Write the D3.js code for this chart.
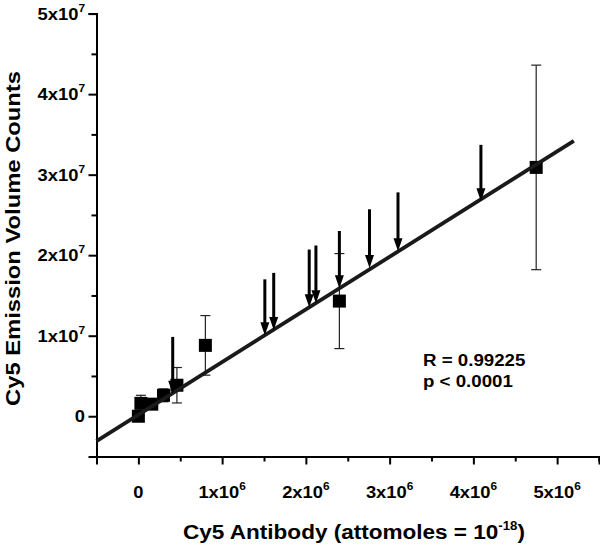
<!DOCTYPE html>
<html>
<head>
<meta charset="utf-8">
<script src="https://cdn.jsdelivr.net/npm/d3@7"></script>
<style>
  html, body { margin: 0; padding: 0; background: #fff; }
  svg { display: block; font-family: "Liberation Sans", Arial, sans-serif; }
</style>
</head>
<body>
<svg id="chart" width="600" height="545"></svg>
<script>
// ---- Data ----
const pointX   = [0, 0.03e6, 0.16e6, 0.30e6, 0.46e6, 0.80e6, 2.40e6, 4.75e6];
const pointY   = [0, 0.16e7, 0.15e7, 0.26e7, 0.385e7, 0.88e7, 1.43e7, 3.09e7];
const pointErr = [0, 0.10e7, 0, 0.08e7, 0.22e7, 0.37e7, 0.59e7, 1.27e7];

const arrowX   = [0.41e6, 1.51e6, 1.616e6, 2.04e6, 2.12e6, 2.40e6, 2.76e6, 3.10e6, 4.09e6];
const arrowTop = [0.985e7, 1.70e7, 1.78e7, 2.07e7, 2.12e7, 2.30e7, 2.57e7, 2.78e7, 3.37e7];
const arrowTip = [0.28e7, 1.006e7, 1.07e7, 1.354e7, 1.404e7, 1.59e7, 1.84e7, 2.05e7, 2.67e7];

const fitX = [-0.5e6, 5.2e6];
const fitY = [-0.31e7, 3.42e7];

const xMajor = [0, 1e6, 2e6, 3e6, 4e6, 5e6];
const xMajorLabels = [["0", ""], ["1x10", "6"], ["2x10", "6"], ["3x10", "6"], ["4x10", "6"], ["5x10", "6"]];
const xMinor = [-0.5e6, 0.5e6, 1.5e6, 2.5e6, 3.5e6, 4.5e6, 5.5e6];
const yMajor = [0, 1e7, 2e7, 3e7, 4e7, 5e7];
const yMajorLabels = [["0", ""], ["1x10", "7"], ["2x10", "7"], ["3x10", "7"], ["4x10", "7"], ["5x10", "7"]];
const yMinor = [-0.5e7, 0.5e7, 1.5e7, 2.5e7, 3.5e7, 4.5e7];

const statLines = ["R = 0.99225", "p < 0.0001"];
const xTitle = ["Cy5 Antibody (attomoles = 10", "-18", ")"];
const yTitle = "Cy5 Emission Volume Counts";

// ---- Scales ----
const x = d3.scaleLinear().domain([-0.5e6, 5.5e6]).range([96.5, 599]);
const y = d3.scaleLinear().domain([-0.5e7, 5e7]).range([456.5, 13.6]);

const svg = d3.select("#chart");

// helper: stretched text group
function stretched(parent, tx, ty, sx, rot) {
  return parent.append("g").attr("transform", `translate(${tx},${ty})${rot ? ` rotate(${rot})` : ""} scale(${sx},1)`);
}

// ---- Axes ----
const xAxisMajor = d3.axisBottom(x).tickValues(xMajor).tickSize(8).tickFormat("");
const xAxisMinor = d3.axisBottom(x).tickValues(xMinor).tickSize(5).tickFormat("");
const yAxisMajor = d3.axisLeft(y).tickValues(yMajor).tickSize(8).tickFormat("");
const yAxisMinor = d3.axisLeft(y).tickValues(yMinor).tickSize(5).tickFormat("");

function styleAxis(g) {
  g.select(".domain").attr("stroke", "#000").attr("stroke-width", 2);
  g.selectAll(".tick line").attr("stroke", "#000").attr("stroke-width", 2);
}
svg.append("g").attr("transform", `translate(0,${y(-0.5e7)})`).call(xAxisMajor).call(styleAxis);
svg.append("g").attr("transform", `translate(0,${y(-0.5e7)})`).call(xAxisMinor).call(styleAxis);
svg.append("g").attr("transform", `translate(${x(-0.5e6)},0)`).call(yAxisMajor).call(styleAxis);
svg.append("g").attr("transform", `translate(${x(-0.5e6)},0)`).call(yAxisMinor).call(styleAxis);

// tick labels
xMajor.forEach((v, i) => {
  const t = stretched(svg, x(v), 498, 1.08).append("text")
    .attr("font-size", 17).attr("font-weight", "bold").attr("text-anchor", "middle");
  t.append("tspan").text(xMajorLabels[i][0]);
  if (xMajorLabels[i][1]) t.append("tspan").attr("dy", -8).attr("font-size", 11).text(xMajorLabels[i][1]);
});
yMajor.forEach((v, i) => {
  const t = stretched(svg, 85, y(v) + 6, 1.08).append("text")
    .attr("font-size", 17).attr("font-weight", "bold").attr("text-anchor", "end");
  t.append("tspan").text(yMajorLabels[i][0]);
  if (yMajorLabels[i][1]) t.append("tspan").attr("dy", -8).attr("font-size", 11).text(yMajorLabels[i][1]);
});

// axis titles
const xt = stretched(svg, 354, 539, 1.1).append("text")
  .attr("text-anchor", "middle").attr("font-size", 20.5).attr("font-weight", "bold");
xt.append("tspan").text(xTitle[0]);
xt.append("tspan").attr("dy", -9).attr("font-size", 12).text(xTitle[1]);
xt.append("tspan").attr("dy", 9).text(xTitle[2]);

stretched(svg, 20, 238.5, 1.16, -90).append("text")
  .attr("text-anchor", "middle").attr("font-size", 20.5).attr("font-weight", "bold")
  .text(yTitle);

// ---- Error bars ----
const pts = pointX.map((v, i) => ({x: v, y: pointY[i], e: pointErr[i]}));
const eb = svg.append("g").attr("stroke", "#222").attr("stroke-width", 1.2);
pts.filter(d => d.e > 0).forEach(d => {
  eb.append("line").attr("x1", x(d.x)).attr("x2", x(d.x)).attr("y1", y(d.y - d.e)).attr("y2", y(d.y + d.e));
  [d.y - d.e, d.y + d.e].forEach(v => {
    eb.append("line").attr("x1", x(d.x) - 5).attr("x2", x(d.x) + 5).attr("y1", y(v)).attr("y2", y(v));
  });
});

// ---- Squares ----
svg.append("g").selectAll("rect").data(pts).join("rect")
  .attr("x", d => x(d.x) - 6.5).attr("y", d => y(d.y) - 6.5)
  .attr("width", 13).attr("height", 13).attr("fill", "#000");

// ---- Regression line ----
svg.append("line")
  .attr("x1", x(fitX[0])).attr("y1", y(fitY[0]))
  .attr("x2", x(fitX[1])).attr("y2", y(fitY[1]))
  .attr("stroke", "#1a1a1a").attr("stroke-width", 3.8);

// ---- Arrows ----
const ag = svg.append("g");
arrowX.forEach((v, i) => {
  const ax = x(v), yt = y(arrowTop[i]), yp = y(arrowTip[i]);
  ag.append("line").attr("x1", ax).attr("x2", ax).attr("y1", yt).attr("y2", yp - 8)
    .attr("stroke", "#000").attr("stroke-width", 3);
  ag.append("path").attr("d", `M${ax - 4.5},${yp - 13} L${ax + 4.5},${yp - 13} L${ax},${yp} Z`).attr("fill", "#000");
});

// ---- Stats text ----
statLines.forEach((s, i) => {
  stretched(svg, 423, 366 + i * 21, 1.1).append("text")
    .attr("font-size", 17).attr("font-weight", "bold").text(s);
});
</script>
</body>
</html>
